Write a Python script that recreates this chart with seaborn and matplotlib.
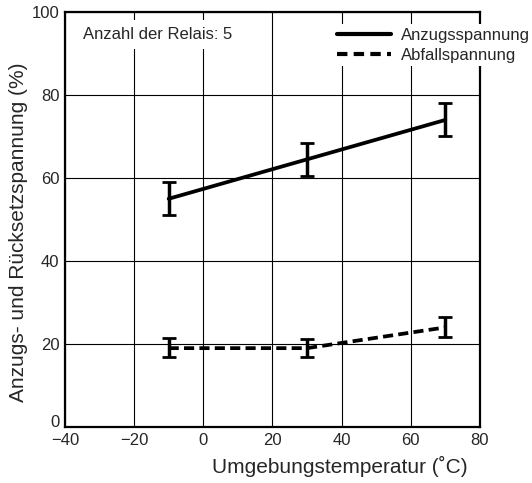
import matplotlib
matplotlib.use('Agg')
import matplotlib.pyplot as plt
import matplotlib.transforms as mtransforms
from matplotlib.lines import Line2D
import numpy as np
import pandas as pd
import seaborn as sns

temperatures = [-10, 30, 70]

pickup_mean = [55, 64.5, 74]
pickup_low = [51, 60.5, 70.2]
pickup_high = [59, 68.5, 78.2]

dropout_mean = [19, 19, 24]
dropout_low = [16.8, 16.8, 21.7]
dropout_high = [21.5, 21.3, 26.5]

series_names = ['Anzugsspannung', 'Abfallspannung']

x_ticks = [-40, -20, 0, 20, 40, 60, 80]
y_ticks = [0, 20, 40, 60, 80, 100]

sns.set_style('white')
plt.rcParams['font.family'] = ['Liberation Sans', 'DejaVu Sans']
plt.rcParams['axes.unicode_minus'] = True

df = pd.DataFrame({
    'temp': temperatures * 2,
    'value': pickup_mean + dropout_mean,
    'series': [series_names[0]] * 3 + [series_names[1]] * 3,
})

fig = plt.figure(figsize=(5.32, 4.83), dpi=100)
ax = fig.add_axes([0.122, 0.116, 0.780, 0.859])

sns.lineplot(data=df, x='temp', y='value', hue='series', style='series',
             palette=['black', 'black'], dashes=[(None, None), (2.7, 1.4)],
             linewidth=2.7, ax=ax, legend=False, zorder=3)

for mean, low, high in [(pickup_mean, pickup_low, pickup_high),
                        (dropout_mean, dropout_low, dropout_high)]:
    mean = np.array(mean)
    yerr = [mean - np.array(low), np.array(high) - mean]
    ax.errorbar(temperatures, mean, yerr=yerr, fmt='none', ecolor='black',
                elinewidth=2.5, capsize=5, capthick=2, zorder=4)

ax.set_xlim(-40, 80)
ax.set_ylim(0, 100)
ax.set_xticks(x_ticks)
ax.set_yticks(y_ticks)
ax.grid(True, color='black', linewidth=0.8, zorder=0)
ax.tick_params(length=0, labelsize=12)
ax.tick_params(axis='x', pad=4)
ax.tick_params(axis='y', pad=4)

# nudge the y "0" up a little so it clears the "-40"
zero_label = ax.get_yticklabels()[0]
zero_label.set_transform(zero_label.get_transform() +
                         mtransforms.ScaledTranslation(0, 4 / 72, fig.dpi_scale_trans))

for spine in ax.spines.values():
    spine.set_linewidth(1.6)
    spine.set_color('black')

ax.set_xlabel('Umgebungstemperatur (˚C)', fontsize=15)
ax.xaxis.set_label_coords(0.97, -0.07)
ax.xaxis.label.set_horizontalalignment('right')
ax.set_ylabel('Anzugs- und Rücksetzspannung (%)', fontsize=15)
ax.yaxis.set_label_coords(-0.088, 0.47)

ax.text(0.043, 0.945, 'Anzahl der Relais: 5', transform=ax.transAxes,
        fontsize=12, va='center', ha='left', zorder=5,
        bbox=dict(facecolor='white', edgecolor='none', pad=5))

handles = [Line2D([0], [0], color='black', linewidth=3),
           Line2D([0], [0], color='black', linewidth=3, dashes=(2.5, 1.5))]
leg = fig.legend(handles, series_names, loc='upper left',
                 bbox_to_anchor=(0.612, 0.967), frameon=True, fontsize=12,
                 handlelength=3.2, handletextpad=0.6, labelspacing=0.3,
                 borderpad=0.2)
leg.get_frame().set_facecolor('white')
leg.get_frame().set_edgecolor('none')
leg.get_frame().set_alpha(1)

fig.savefig('out.png', dpi=100)
